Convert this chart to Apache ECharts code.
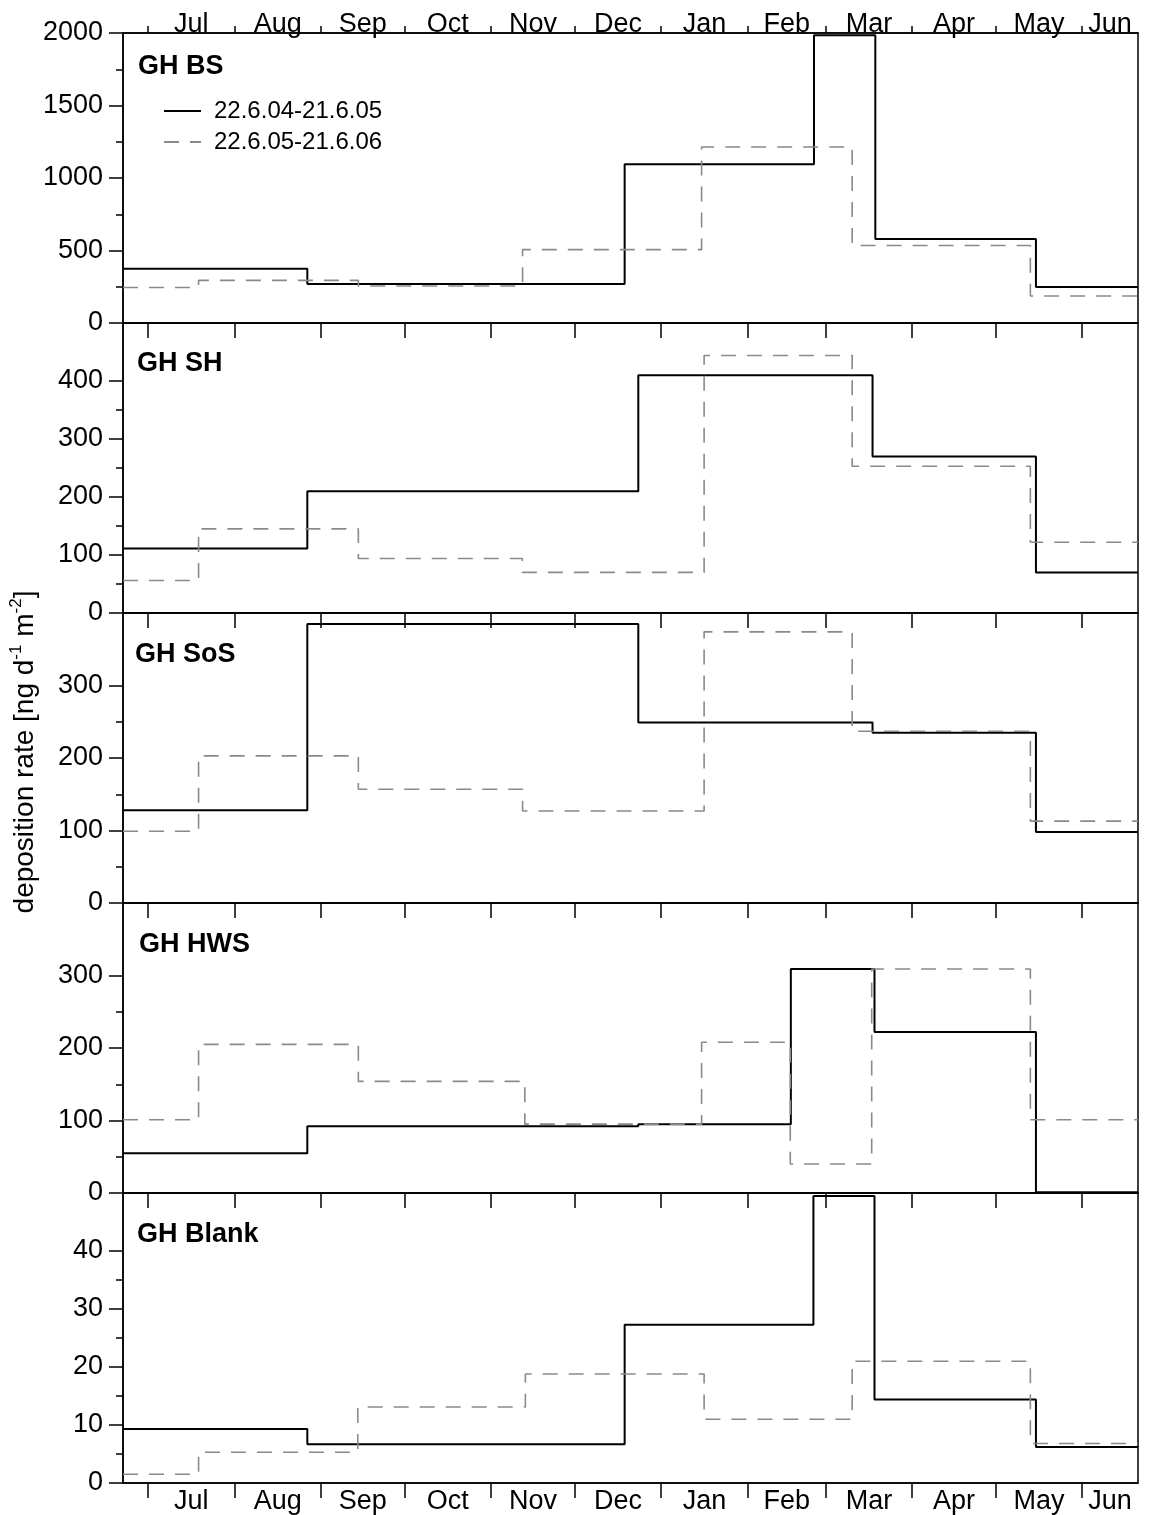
<!DOCTYPE html>
<html>
<head>
<meta charset="utf-8">
<script src="https://cdn.jsdelivr.net/npm/echarts@6/dist/echarts.min.js"></script>
<style>
  html, body { margin: 0; padding: 0; background: #fff; }
  #chart { width: 1150px; height: 1515px; }
</style>
</head>
<body>
<div id="chart"></div>
<script>
// Time runs in days after 22 June; every sampling rate holds until the next boundary day.
const monthNames = ['Jul', 'Aug', 'Sep', 'Oct', 'Nov', 'Dec', 'Jan', 'Feb', 'Mar', 'Apr', 'May', 'Jun'];
const monthStartDays = [9, 40, 71, 101, 132, 162, 193, 224, 252, 283, 313, 344];
const lastDay = 364;

const seriesNames = ['22.6.04-21.6.05', '22.6.05-21.6.06'];
const panelNames = ['GH BS', 'GH SH', 'GH SoS', 'GH HWS', 'GH Blank'];

// y axis scales and tick values
const yMax = [2000, 500, 400, 400, 50];
const yStep = [500, 100, 100, 100, 10];
const yMinorTicks = [
  [250, 750, 1250, 1750],
  [50, 150, 250, 350],
  [50, 150, 250],
  [50, 150, 250],
  [5, 15, 25, 35]
];

// deposition rates [ng d-1 m-2], 2004/05 (solid) and 2005/06 (dashed)
const bsDays0405   = [0, 66.1, 179.9, 247.8, 269.8, 327.4, lastDay];
const bsRates0405  = [375, 269, 1094, 1984, 579, 248];
const bsDays0506   = [0, 27.1, 84.4, 143.3, 207.5, 261.5, 325.4, lastDay];
const bsRates0506  = [245, 294, 255, 506, 1214, 534, 186];

const shDays0405   = [0, 66.1, 184.8, 268.8, 327.4, lastDay];
const shRates0405  = [111, 210, 410, 270, 70];
const shDays0506   = [0, 27.1, 84.4, 143.2, 208.4, 261.5, 325.4, lastDay];
const shRates0506  = [56, 145, 94, 70, 444, 253, 122];

const sosDays0405  = [0, 66.1, 184.8, 268.8, 327.4, lastDay];
const sosRates0405 = [128, 385, 249, 235, 98];
const sosDays0506  = [0, 27.1, 84.4, 143.3, 208.4, 261.5, 325.4, lastDay];
const sosRates0506 = [99, 203, 157, 127, 374, 237, 113];

const hwsDays0405  = [0, 66.1, 184.8, 239.5, 269.5, 327.4, lastDay];
const hwsRates0405 = [55, 92, 95, 309, 222, 1];
const hwsDays0506  = [0, 27.1, 84.4, 144.1, 207.5, 239.3, 268.5, 325.4, lastDay];
const hwsRates0506 = [101, 205, 154, 95, 208, 40, 309, 101];

const blankDays0405  = [0, 66.1, 179.9, 247.6, 269.5, 327.4, lastDay];
const blankRates0405 = [9.3, 6.7, 27.3, 49.5, 14.4, 6.2];
const blankDays0506  = [0, 27.1, 84.2, 144.3, 208.4, 261.5, 325.4, lastDay];
const blankRates0506 = [1.5, 5.3, 13.1, 18.8, 11.0, 21.0, 6.8];

const panelSeries = [
  [[bsDays0405, bsRates0405], [bsDays0506, bsRates0506]],
  [[shDays0405, shRates0405], [shDays0506, shRates0506]],
  [[sosDays0405, sosRates0405], [sosDays0506, sosRates0506]],
  [[hwsDays0405, hwsRates0405], [hwsDays0506, hwsRates0506]],
  [[blankDays0405, blankRates0405], [blankDays0506, blankRates0506]]
];

// month labels sit in the middle of each month
const monthMidDays = monthStartDays.map((d, i) => (d + (i + 1 < monthStartDays.length ? monthStartDays[i + 1] : lastDay)) / 2);
const monthLabel = v => {
  let best = 0;
  monthMidDays.forEach((m, i) => { if (Math.abs(m - v) < Math.abs(monthMidDays[best] - v)) best = i; });
  return monthNames[best];
};

// step line: each rate starts at its boundary and is held to the next one
function stepData(days, rates) {
  const pts = rates.map((r, i) => [days[i], r]);
  pts.push([days[days.length - 1], rates[rates.length - 1]]);
  return pts;
}

const FONT = '"Liberation Sans", Arial, Helvetica, sans-serif';
const BLACK = '#000';
const GREY = '#8a8a8a';
const PLOT_LEFT = 123, PLOT_WIDTH = 1015, PLOT_TOP = 33, PANEL_H = 290;

const grids = [], xAxes = [], yAxes = [], series = [], titles = [];
const titleOffsets = [[15, 34], [14, 41], [12, 42], [16, 42], [14, 42]];

panelNames.forEach((name, i) => {
  const top = PLOT_TOP + i * PANEL_H;
  grids.push({
    left: PLOT_LEFT, width: PLOT_WIDTH, top: top, height: PANEL_H,
    show: true, borderColor: BLACK, borderWidth: 1.5, backgroundColor: 'transparent'
  });
  xAxes.push({
    type: 'value', gridIndex: i, min: 0, max: lastDay, position: 'bottom',
    axisLine: { show: true, onZero: false, lineStyle: { color: BLACK, width: 1.5 } },
    axisTick: { show: true, customValues: monthStartDays, length: 15, lineStyle: { color: BLACK, width: 1.5 } },
    axisLabel: i === panelNames.length - 1
      ? { show: true, customValues: monthMidDays, formatter: monthLabel, margin: 5,
          fontSize: 27, fontFamily: FONT, color: BLACK }
      : { show: false },
    splitLine: { show: false }
  });
  yAxes.push({
    type: 'value', gridIndex: i, min: 0, max: yMax[i], interval: yStep[i], position: 'left',
    axisLine: { show: true, lineStyle: { color: BLACK, width: 1.5 } },
    axisTick: { show: true, length: 14, lineStyle: { color: BLACK, width: 1.5 } },
    axisLabel: { fontSize: 27, fontFamily: FONT, color: BLACK, margin: 20, showMaxLabel: i === 0,
                 formatter: v => String(v) },
    splitLine: { show: false }
  });
  yAxes.push({
    type: 'value', gridIndex: i, min: 0, max: yMax[i], position: 'left',
    axisLine: { show: false },
    axisTick: { show: true, customValues: yMinorTicks[i], length: 7, lineStyle: { color: BLACK, width: 1.5 } },
    axisLabel: { show: false },
    splitLine: { show: false }
  });
  titles.push({
    text: name, left: PLOT_LEFT + titleOffsets[i][0], top: top + titleOffsets[i][1] - 15, padding: 0,
    textStyle: { fontSize: 27, fontWeight: 'bold', fontFamily: FONT, color: BLACK, lineHeight: 30 }
  });
  panelSeries[i].forEach(([days, rates], k) => {
    series.push({
      type: 'line', name: seriesNames[k], xAxisIndex: i, yAxisIndex: i * 2,
      step: 'end', symbol: 'none', showSymbol: false, silent: true,
      lineStyle: k === 0
        ? { color: BLACK, width: 2, type: 'solid' }
        : { color: GREY, width: 1.6, type: [15, 11] },
      itemStyle: { color: k === 0 ? BLACK : GREY },
      data: stepData(days, rates)
    });
  });
});

// month axis along the top of the first panel
xAxes.push({
  type: 'value', gridIndex: 0, min: 0, max: lastDay, position: 'top',
  axisLine: { show: true, onZero: false, lineStyle: { color: BLACK, width: 1.5 } },
  axisTick: { show: true, customValues: monthStartDays, length: 7, lineStyle: { color: BLACK, width: 1.5 } },
  axisLabel: { show: true, customValues: monthMidDays, formatter: monthLabel, margin: -5,
               fontSize: 27, fontFamily: FONT, color: BLACK },
  splitLine: { show: false }
});

const chart = echarts.init(document.getElementById('chart'), null, { renderer: 'canvas' });
chart.setOption({
  animation: false,
  backgroundColor: '#fff',
  title: titles,
  legend: {
    data: seriesNames, orient: 'vertical', left: 163, top: 99, padding: 0,
    itemWidth: 37, itemHeight: 14, itemGap: 7, selectedMode: false,
    itemStyle: { color: 'rgba(0,0,0,0)', borderColor: 'rgba(0,0,0,0)', borderWidth: 0 },
    textStyle: { fontSize: 24, fontFamily: FONT, color: BLACK, lineHeight: 24, padding: [0, 0, 0, 8] }
  },
  grid: grids,
  xAxis: xAxes,
  yAxis: yAxes,
  series: series,
  graphic: [{
    type: 'text', x: 25, y: 752, rotation: Math.PI / 2,
    style: {
      text: '{m|deposition rate [ng d}{s|-1}{m| m}{s|-2}{m|]}',
      align: 'center', verticalAlign: 'middle',
      rich: {
        m: { fontSize: 28, fontFamily: FONT, fill: BLACK, lineHeight: 34, verticalAlign: 'middle' },
        s: { fontSize: 17, fontFamily: FONT, fill: BLACK, lineHeight: 34, verticalAlign: 'top' }
      }
    }
  }]
});
</script>
</body>
</html>
